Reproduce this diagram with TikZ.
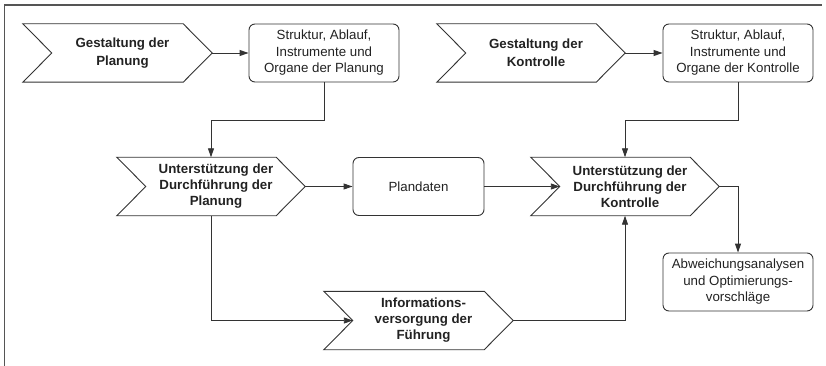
\documentclass[tikz,border=0pt]{standalone}
\usepackage{fontspec}
\setmainfont{Liberation Sans}
\usetikzlibrary{arrows.meta}
\definecolor{linec}{HTML}{333333}
\definecolor{textc}{HTML}{222222}
\definecolor{framec}{HTML}{555555}
\tikzset{
  chevbox/.style={rectangle, draw=none, inner sep=0pt, minimum height=58pt},
  chevline/.style={draw=linec, line width=0.9pt, line join=miter},
  chevtext/.style={align=center, text=textc, inner sep=0pt, font=\fontsize{13.3}{16}\selectfont\bfseries},
  roundbox/.style={rectangle, rounded corners=6pt, draw=linec, line width=0.9pt, align=center, text=textc,
    minimum width=150pt, minimum height=58pt, inner sep=0pt, font=\fontsize{13.3}{16.5}\selectfont},
  arr/.style={draw=linec, line width=0.9pt, -{Triangle[length=9pt,width=6pt]}},
  frameline/.style={draw=framec, line width=1.2pt}
}
\newcommand\chev[6]{%
  \node[chevbox, minimum width=#4pt] (#1) at (#2,#3) {};
  \draw[chevline] (#1.north west) -- ([xshift=-29pt]#1.north east) -- (#1.east)
    -- ([xshift=-29pt]#1.south east) -- (#1.south west) -- ([xshift=29pt]#1.west) -- cycle;
  \node[chevtext] (#1-txt) at ([xshift=5pt]#1.center) {#6};
  \coordinate (#1-notch) at ([xshift=29pt]#1.west);
}
\begin{document}
\begin{tikzpicture}[x=1pt,y=-1pt]
\useasboundingbox (0,0) rectangle (826,366);
\draw[frameline] (4.5,366) -- (4.5,5) -- (822,5);

\chev{g1}{117.5}{53}{189}{}{Gestaltung der\\[2pt]Planung}
\node[roundbox] (b1) at (324,53) {Struktur, Ablauf,\\Instrumente und\\Organe der Planung};
\chev{g2}{531}{53}{188}{}{Gestaltung der\\[2pt]Kontrolle}
\node[roundbox] (b2) at (738,53) {Struktur, Ablauf,\\Instrumente und\\Organe der Kontrolle};

\chev{u1}{211}{186.5}{188}{}{Unterstützung der\\Durchführung der\\Planung}
\node[roundbox, minimum width=131pt] (pd) at (418.5,186.5) {Plandaten};
\chev{u2}{625}{186.5}{188}{}{Unterstützung der\\Durchführung der\\Kontrolle}

\node[roundbox] (ab) at (738,282) {Abweichungsanalysen\\und Optimierungs-\\vorschläge};
\chev{inf}{418.5}{320.5}{189}{}{Informations-\\versorgung der\\Führung}

\draw[arr] (g1.east) -- (b1.west);
\draw[arr] (g2.east) -- (b2.west);
\draw[arr] (b1.south) -- ++(0,38) -| (u1.north);
\draw[arr] (b2.south) -- ++(0,38) -| (u2.north);
\draw[arr] (u1.east) -- (pd.west);
\draw[arr] (pd.east) -- (u2-notch);
\draw[arr] (u2.east) -| (ab.north);
\draw[arr] (u1.south) |- (inf-notch);
\draw[arr] (inf.east) -| (u2.south);
\end{tikzpicture}
\end{document}
